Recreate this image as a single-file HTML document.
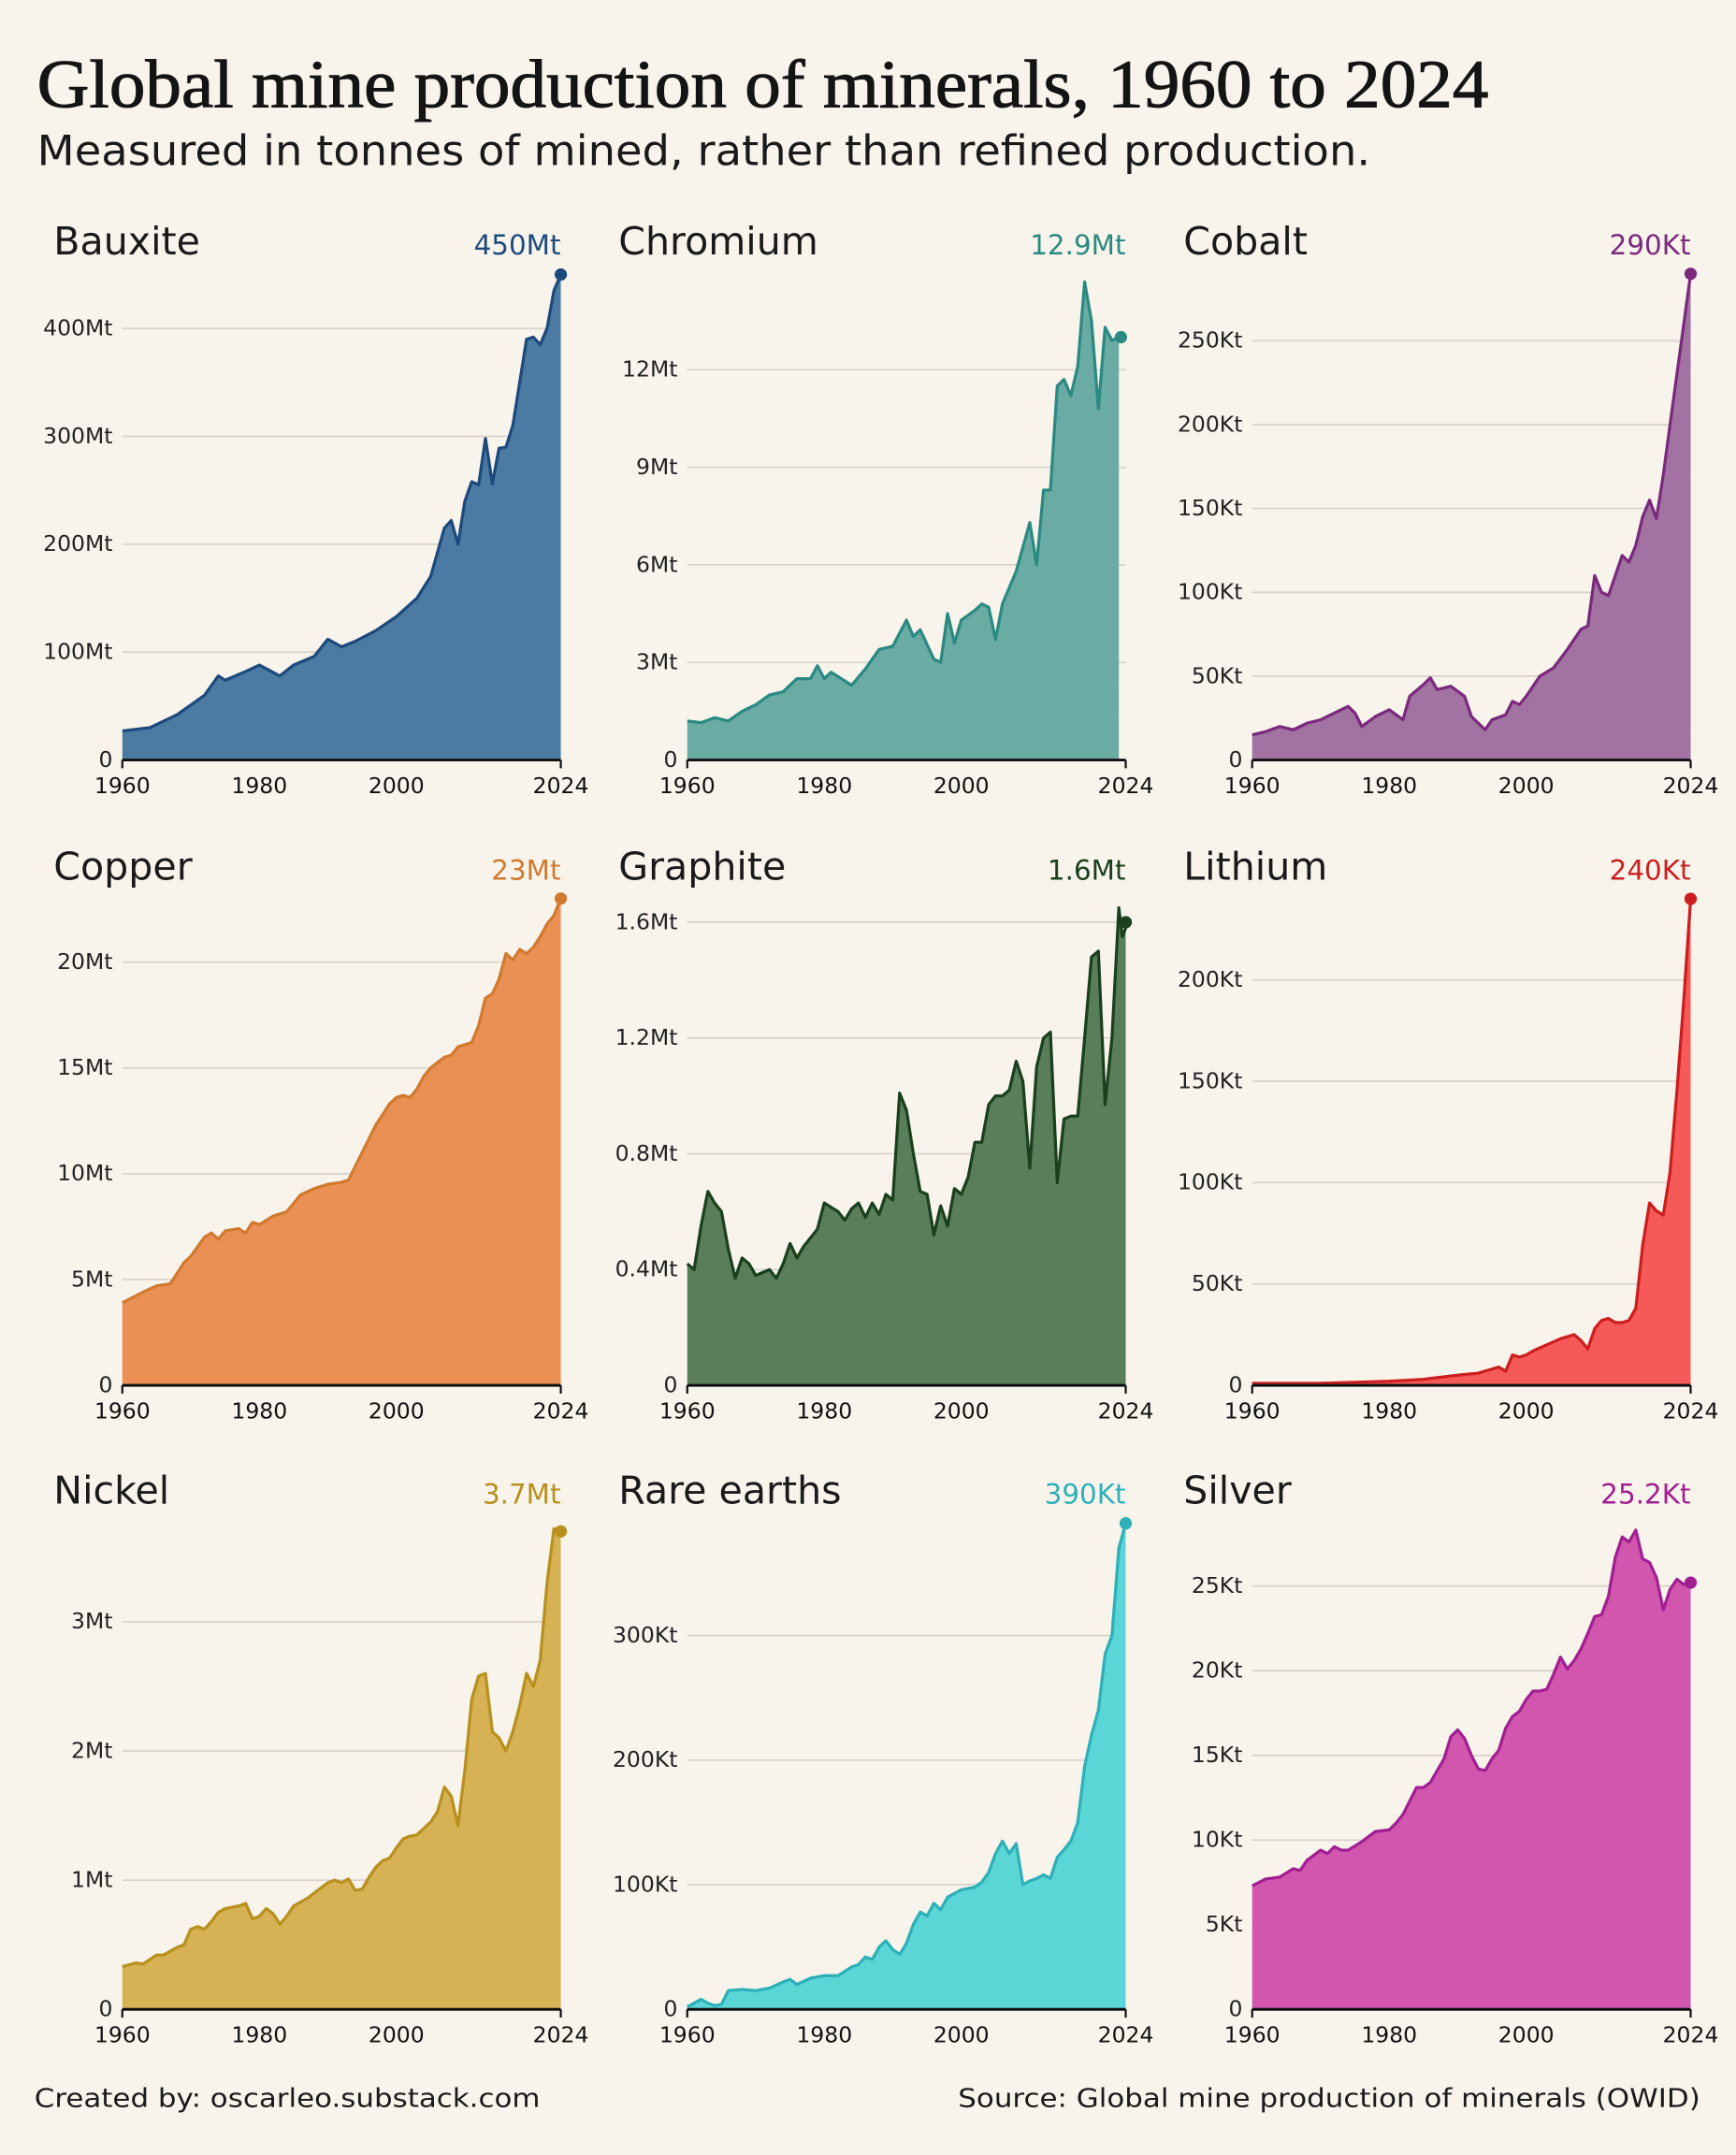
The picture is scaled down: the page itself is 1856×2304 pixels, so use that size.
<!DOCTYPE html>
<html><head><meta charset="utf-8"><style>
html,body{margin:0;padding:0;background:#f8f4ec;}
svg{display:block;}
</style></head><body>
<svg id="s" width="1856" height="2304" viewBox="0 0 1263 1568" preserveAspectRatio="none" xmlns="http://www.w3.org/2000/svg">
<rect width="1263" height="1568" fill="#f8f4ec"/>
<text x="27" y="78" font-family="Liberation Serif, serif" font-size="50" fill="#141414" stroke="#141414" stroke-width="0.7" textLength="1056" lengthAdjust="spacingAndGlyphs">Global mine production of minerals, 1960 to 2024</text>
<text x="27" y="120" font-family="DejaVu Sans, Liberation Sans, sans-serif" font-size="30" fill="#1a1a1a" textLength="970" lengthAdjust="spacingAndGlyphs">Measured in tonnes of mined, rather than refined production.</text>
<text x="25" y="1533" font-family="DejaVu Sans, Liberation Sans, sans-serif" font-size="19" fill="#1a1a1a" textLength="368" lengthAdjust="spacingAndGlyphs">Created by: oscarleo.substack.com</text>
<text x="1237" y="1533" text-anchor="end" font-family="DejaVu Sans, Liberation Sans, sans-serif" font-size="19" fill="#1a1a1a" textLength="540" lengthAdjust="spacingAndGlyphs">Source: Global mine production of minerals (OWID)</text>
<g id="g"></g>
</svg>
<script>
const NS="http://www.w3.org/2000/svg";
const g=document.getElementById('g');
function el(t,a,txt){const e=document.createElementNS(NS,t);for(const k in a)e.setAttribute(k,a[k]);if(txt!==undefined)e.textContent=txt;g.appendChild(e);return e;}
const P=[
{n:"Bauxite",v:"450Mt",c:"#1d4a7c",f:"#4b7ba2",col:0,row:0,tv:400,ty:239,ticks:[[100,"100Mt"],[200,"200Mt"],[300,"300Mt"],[400,"400Mt"]],
d:[60,27,64,30,68,42,72,60,74,78,75,74,78,82,80,88,83,78,85,88,88,96,90,112,92,105,94,110,97,120,2000,133,2003,150,2005,170,2007,215,2008,222,2009,200,2010,240,2011,258,2012,255,2013,298,2014,256,2015,289,2016,290,2017,310,2018,350,2019,390,2020,392,2021,385,2022,400,2023,435,2024,450],dot:[2024,450]},
{n:"Chromium",v:"12.9Mt",c:"#2a8a82",f:"#6aaca4",col:1,row:0,tv:12,ty:269,ticks:[[3,"3Mt"],[6,"6Mt"],[9,"9Mt"],[12,"12Mt"]],
d:[60,1.2,62,1.15,64,1.3,66,1.2,68,1.5,70,1.7,72,2.0,74,2.1,76,2.5,78,2.5,79,2.9,80,2.5,81,2.7,84,2.3,86,2.8,88,3.4,90,3.5,92,4.3,93,3.8,94,4.0,96,3.1,97,3.0,98,4.5,99,3.6,2000,4.3,2002,4.6,2003,4.8,2004,4.7,2005,3.7,2006,4.8,2008,5.8,2010,7.3,2011,6.0,2012,8.3,2013,8.3,2014,11.5,2015,11.7,2016,11.2,2017,12.1,2018,14.7,2019,13.5,2020,10.8,2021,13.3,2022,12.9,2023,13.0],dot:[2023.3,13.0]},
{n:"Cobalt",v:"290Kt",c:"#7a2a7c",f:"#a272a2",col:2,row:0,tv:250,ty:248,ticks:[[50,"50Kt"],[100,"100Kt"],[150,"150Kt"],[200,"200Kt"],[250,"250Kt"]],
d:[60,15,62,17,64,20,66,18,68,22,70,24,72,28,74,32,75,28,76,20,78,26,80,30,82,24,83,38,85,45,86,49,87,42,89,44,91,38,92,26,94,18,95,24,97,27,98,35,99,33,2000,38,2002,50,2004,55,2006,66,2008,78,2009,80,2010,110,2011,100,2012,98,2013,110,2014,122,2015,118,2016,128,2017,145,2018,155,2019,144,2020,170,2021,200,2022,230,2023,260,2024,290],dot:[2024,290]},
{n:"Copper",v:"23Mt",c:"#d07a30",f:"#eb9055",col:0,row:1,tv:20,ty:700,ticks:[[5,"5Mt"],[10,"10Mt"],[15,"15Mt"],[20,"20Mt"]],
d:[60,3.9,63,4.4,65,4.7,67,4.8,69,5.8,70,6.1,72,7.0,73,7.2,74,6.9,75,7.3,77,7.4,78,7.2,79,7.7,80,7.6,82,8.0,84,8.2,86,9.0,88,9.3,90,9.5,92,9.6,93,9.7,95,11.0,97,12.3,99,13.3,2000,13.6,2001,13.7,2002,13.6,2003,14.0,2004,14.6,2005,15.0,2007,15.5,2008,15.6,2009,16.0,2010,16.1,2011,16.2,2012,17.0,2013,18.3,2014,18.5,2015,19.2,2016,20.4,2017,20.1,2018,20.6,2019,20.4,2020,20.7,2021,21.2,2022,21.8,2023,22.2,2024,23],dot:[2024,23]},
{n:"Graphite",v:"1.6Mt",c:"#1a401e",f:"#5a7e5a",col:1,row:1,tv:1.6,ty:671,ticks:[[0.4,"0.4Mt"],[0.8,"0.8Mt"],[1.2,"1.2Mt"],[1.6,"1.6Mt"]],
d:[60,.42,61,.40,62,.55,63,.67,64,.63,65,.60,66,.47,67,.37,68,.44,69,.42,70,.38,72,.40,73,.37,74,.42,75,.49,76,.44,77,.48,79,.54,80,.63,82,.60,83,.57,84,.61,85,.63,86,.58,87,.63,88,.59,89,.66,90,.64,91,1.01,92,.95,93,.8,94,.67,95,.66,96,.52,97,.62,98,.55,99,.68,2000,.66,2001,.72,2002,.84,2003,.84,2004,.97,2005,1.0,2006,1.0,2007,1.02,2008,1.12,2009,1.05,2010,.75,2011,1.1,2012,1.2,2013,1.22,2014,.7,2015,.92,2016,.93,2017,.93,2018,1.2,2019,1.48,2020,1.5,2021,.97,2022,1.2,2023,1.65,2023.5,1.55,2024,1.58],dot:[2024,1.6]},
{n:"Lithium",v:"240Kt",c:"#cc1e1e",f:"#f55a58",col:2,row:1,tv:200,ty:713,ticks:[[50,"50Kt"],[100,"100Kt"],[150,"150Kt"],[200,"200Kt"]],
d:[60,1,70,1,80,2,85,3,90,5,93,6,96,9,97,7,98,15,99,14,2000,15,2001,17,2003,20,2005,23,2007,25,2008,22,2009,18,2010,28,2011,32,2012,33,2013,31,2014,31,2015,32,2016,38,2017,69,2018,90,2019,86,2020,84,2021,105,2022,145,2023,190,2024,240],dot:[2024,240]},
{n:"Nickel",v:"3.7Mt",c:"#b8901e",f:"#d6b254",col:0,row:2,tv:3,ty:1180,ticks:[[1,"1Mt"],[2,"2Mt"],[3,"3Mt"]],
d:[60,.33,62,.36,63,.35,65,.42,66,.42,67,.45,68,.48,69,.50,70,.62,71,.64,72,.62,73,.68,74,.75,75,.78,77,.80,78,.82,79,.70,80,.72,81,.78,82,.74,83,.66,84,.72,85,.80,87,.86,88,.90,90,.98,91,1.0,92,.98,93,1.01,94,.92,95,.93,96,1.02,97,1.1,98,1.15,99,1.17,2000,1.25,2001,1.32,2002,1.34,2003,1.35,2004,1.4,2005,1.45,2006,1.53,2007,1.72,2008,1.65,2009,1.42,2010,1.85,2011,2.4,2012,2.58,2013,2.6,2014,2.15,2015,2.1,2016,2.0,2017,2.15,2018,2.35,2019,2.6,2020,2.5,2021,2.7,2022,3.3,2023,3.72,2024,3.7],dot:[2024,3.7]},
{n:"Rare earths",v:"390Kt",c:"#2eb0b8",f:"#5bd6d6",col:1,row:2,tv:300,ty:1190,ticks:[[100,"100Kt"],[200,"200Kt"],[300,"300Kt"]],
d:[60,2,61,5,62,8,63,5,64,3,65,4,66,15,68,16,70,15,72,17,74,22,75,24,76,20,78,25,80,27,82,27,84,34,85,36,86,42,87,40,88,50,89,55,90,48,91,44,92,53,93,68,94,78,95,75,96,85,97,80,98,90,2000,96,2002,98,2003,102,2004,110,2005,125,2006,135,2007,125,2008,133,2009,100,2010,103,2011,105,2012,108,2013,105,2014,122,2015,128,2016,135,2017,150,2018,195,2019,220,2020,240,2021,285,2022,300,2023,370,2024,390],dot:[2024,390]},
{n:"Silver",v:"25.2Kt",c:"#a02092",f:"#d256ae",col:2,row:2,tv:25,ty:1154,ticks:[[5,"5Kt"],[10,"10Kt"],[15,"15Kt"],[20,"20Kt"],[25,"25Kt"]],
d:[60,7.3,62,7.7,64,7.8,66,8.3,67,8.2,68,8.8,70,9.4,71,9.2,72,9.6,73,9.4,74,9.4,76,9.9,78,10.5,80,10.6,81,11.0,82,11.5,84,13.1,85,13.1,86,13.4,88,14.8,89,16.1,90,16.5,91,16.0,92,15.0,93,14.2,94,14.1,95,14.8,96,15.3,97,16.6,98,17.3,99,17.6,2000,18.3,2001,18.8,2002,18.8,2003,18.9,2004,19.8,2005,20.8,2006,20.1,2007,20.6,2008,21.3,2009,22.2,2010,23.2,2011,23.3,2012,24.4,2013,26.7,2014,27.9,2015,27.6,2016,28.3,2017,26.6,2018,26.4,2019,25.5,2020,23.6,2021,24.8,2022,25.4,2023,25.1,2024,25.2],dot:[2024,25.2]}
];
const X0=[89,500,911], BASE=[553,1008,1462], W=319;
const F='DejaVu Sans, Liberation Sans, sans-serif';
P.forEach(p=>{
 const x0=X0[p.col], b=BASE[p.row], k=(b-p.ty)/p.tv;
 const X=y=>x0+(y-1960)/64*W, Y=v=>b-v*k;
 p.ticks.forEach(t=>{const y=Y(t[0]);
  el('line',{x1:x0,x2:x0+W,y1:y,y2:y,stroke:'#d9d4cb','stroke-width':1.2});
  el('text',{x:x0-7,y:y+5,'text-anchor':'end','font-family':F,'font-size':16,fill:'#222'},t[1]);});
 el('text',{x:x0-7,y:b+5,'text-anchor':'end','font-family':F,'font-size':16,fill:'#222'},'0');
 const pts=[];for(let i=0;i<p.d.length;i+=2){let yr=p.d[i];if(yr<100)yr+=1900;pts.push([X(yr),Y(p.d[i+1])]);}
 const line=pts.map((q,i)=>(i?'L':'M')+q[0].toFixed(1)+' '+q[1].toFixed(1)).join('');
 const last=pts[pts.length-1];
 el('path',{d:line+'L'+last[0]+' '+b+'L'+pts[0][0]+' '+b+'Z',fill:p.f});
 el('path',{d:line,fill:'none',stroke:p.c,'stroke-width':2.2,'stroke-linejoin':'round'});
 el('circle',{cx:X(p.dot[0]),cy:Y(p.dot[1]),r:4.5,fill:p.c});
 el('line',{x1:x0,x2:x0+W,y1:b,y2:b,stroke:'#111','stroke-width':2});
 [x0,x0+W].forEach(x=>el('line',{x1:x,x2:x,y1:b,y2:b+6,stroke:'#111','stroke-width':1.5}));
 [[1960,'1960'],[1980,'1980'],[2000,'2000'],[2024,'2024']].forEach(t=>
  el('text',{x:X(t[0]),y:b+24,'text-anchor':'middle','font-family':F,'font-size':16,fill:'#111'},t[1]));
 const ty=[185,640,1094][p.row];
 el('text',{x:x0-50,y:ty,'font-family':F,'font-size':28,fill:'#1a1a1a'},p.n);
 el('text',{x:x0+W,y:ty,'text-anchor':'end','font-family':F,'font-size':20,fill:p.c},p.v);
});
</script>
</body></html>
